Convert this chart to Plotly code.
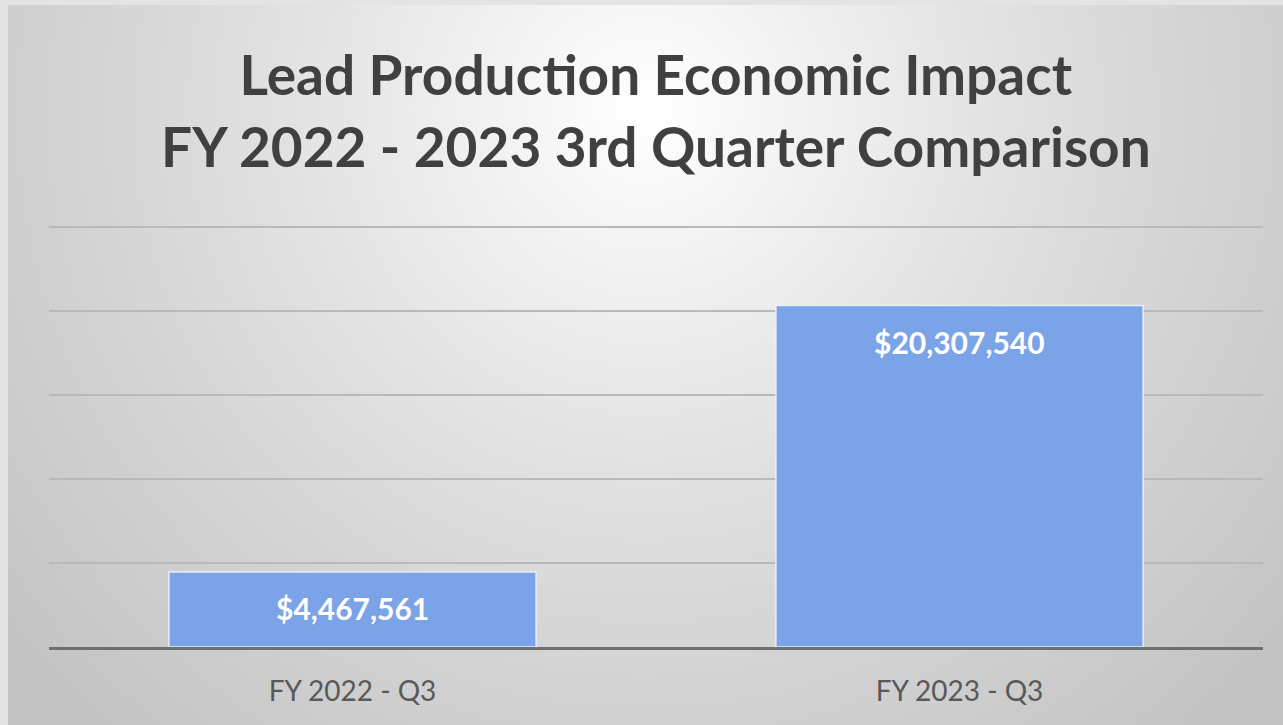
import base64
import plotly.graph_objects as go

categories = ["FY 2022 - Q3", "FY 2023 - Q3"]
values = [4467561, 20307540]
value_labels = ["$4,467,561", "$20,307,540"]
title_lines = ["Lead Production Economic Impact", "FY 2022 - 2023 3rd Quarter Comparison"]

W, H = 1283, 725
L, R, T, B = 49, 20, 225, 78
PW = W - L - R
PH = H - T - B

svg = f'''<svg xmlns="http://www.w3.org/2000/svg" width="{W}" height="{H}" viewBox="0 0 {W} {H}">
<defs><radialGradient id="g" gradientUnits="userSpaceOnUse" cx="645" cy="110" r="820">
<stop offset="0" stop-color="#ffffff"/>
<stop offset="0.22" stop-color="#f0f0f0"/>
<stop offset="0.45" stop-color="#e1e1e1"/>
<stop offset="0.7" stop-color="#d3d3d3"/>
<stop offset="1" stop-color="#c4c4c4"/>
</radialGradient></defs>
<rect x="0" y="0" width="{W}" height="{H}" fill="#e4e4e4"/>
<rect x="8" y="5" width="{W-8}" height="{H-5}" fill="url(#g)"/>
</svg>'''
src = "data:image/svg+xml;base64," + base64.b64encode(svg.encode()).decode()

fig = go.Figure()
fig.add_trace(go.Bar(
    x=categories, y=values, width=0.605,
    marker=dict(color="#7ba4e8", line=dict(color="rgba(235,243,255,0.9)", width=1.5)),
    hoverinfo="skip",
))

for c, v, t in zip(categories, values, value_labels):
    fig.add_annotation(x=c, y=v, text=f"<b>{t}</b>", showarrow=False,
                       yanchor="middle", yshift=-36,
                       font=dict(family="Lato", size=30, color="#ffffff"))

fig.add_annotation(text="<b>" + "<br>".join(title_lines) + "</b>",
                   xref="paper", yref="paper", x=0.5, xanchor="center",
                   y=1 + (T - 110) / PH, yanchor="middle", showarrow=False,
                   font=dict(family="Lato", size=55, color="#404040"))

fig.update_layout(
    width=W, height=H,
    margin=dict(l=L, r=R, t=T, b=B, pad=0),
    paper_bgcolor="#e4e4e4",
    plot_bgcolor="rgba(0,0,0,0)",
    showlegend=False,
    images=[dict(source=src, xref="paper", yref="paper",
                 x=-L / PW, y=1 + T / PH, sizex=W / PW, sizey=H / PH,
                 xanchor="left", yanchor="top", sizing="stretch", layer="below")],
    xaxis=dict(showline=True, linecolor="#6f6f6f", linewidth=3, ticks="",
               tickfont=dict(family="Lato", size=28, color="#595959"),
               ticklabelstandoff=17, showgrid=False, fixedrange=True),
    yaxis=dict(range=[0, 25.1e6], dtick=5e6, showticklabels=False, ticks="",
               gridcolor="#b9b9b9", gridwidth=2, zeroline=False, fixedrange=True),
)

fig.write_html("out.html")
